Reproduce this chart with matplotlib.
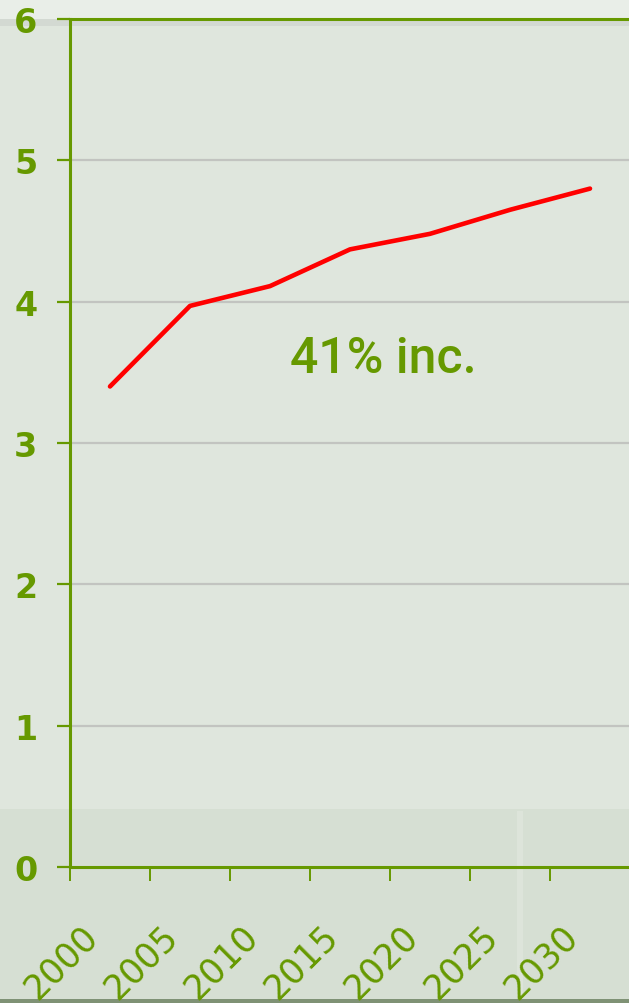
#Plotting Libraries
import matplotlib.pyplot as plt
import matplotlib.transforms as mtransforms
from matplotlib.patches import Rectangle

#Chart data
years = [2002.5, 2007.5, 2012.5, 2017.5, 2022.5, 2027.5, 2032.5]
values = [3.40, 3.97, 4.11, 4.37, 4.48, 4.65, 4.80]
xticks = [2000, 2005, 2010, 2015, 2020, 2025, 2030]
yticks = [0, 1, 2, 3, 4, 5, 6]
note = "41% inc."

#Colors
green = "#669900"
red = "#ff0000"
grid_gray = "#c2c4c0"
bg = "#dfe6dd"

W, H, DPI = 629, 1004, 100
fig = plt.figure(figsize=(W / DPI, H / DPI), dpi=DPI, facecolor=bg)

#Background bands (figure coords), kept behind the axes
def band(x, y, w, h, color):
    fig.patches.append(Rectangle((x / W, y / H), w / W, h / H, transform=fig.transFigure,
                                 facecolor=color, edgecolor="none", zorder=-10))

band(0, H - 20, W, 20, "#e9eee8")
band(0, H - 27, W, 7, "#d3d9d2")
band(0, 4, W, 1004 - 810 - 4, "#d6dfd3")
band(0, 0, W, 4, "#7f9275")
band(517, 4, 6, 1004 - 812 - 4, "#dde4da")

#Axes placed to match pixel layout
ax = fig.add_axes([70 / W, (H - 868) / H, 560 / W, 848 / H])
ax.set_zorder(1)
ax.patch.set_alpha(0)
ax.set_xlim(2000, 2035)
ax.set_ylim(0, 6)

#Gridlines
for yv in yticks[1:-1]:
    ax.axhline(yv, color=grid_gray, lw=1.6, zorder=1)

#Data line
ax.plot(years, values, color=red, lw=3.3, solid_capstyle="round",
        solid_joinstyle="round", zorder=3)

#Annotation
ax.text(2019.6, 3.6, note, color=green, fontsize=36, fontweight="medium",
        family="Roboto", ha="center", va="center")

#Spines
for side in ["left", "bottom", "top"]:
    ax.spines[side].set_color(green)
    ax.spines[side].set_linewidth(2.2)
    ax.spines[side].set_clip_on(False)
ax.spines["right"].set_visible(False)

#Ticks
ax.set_yticks(yticks)
ax.set_yticklabels([str(v) for v in yticks], fontsize=24, fontweight="bold",
                   color=green, family="DejaVu Sans")
ax.tick_params(axis="y", length=9.5, width=1.6, color=green, pad=14)

ax.set_xticks(xticks)
ax.set_xticklabels([str(v) for v in xticks], fontsize=25, color=green,
                   rotation=45, ha="center", va="top", family="DejaVu Sans")
ax.tick_params(axis="x", length=10, width=1.4, color=green, pad=27)
offset = mtransforms.ScaledTranslation(-9 / DPI, 0, fig.dpi_scale_trans)
for lbl in ax.get_xticklabels():
    lbl.set_transform(lbl.get_transform() + offset)

fig.savefig("out.png", dpi=DPI, facecolor=bg)
